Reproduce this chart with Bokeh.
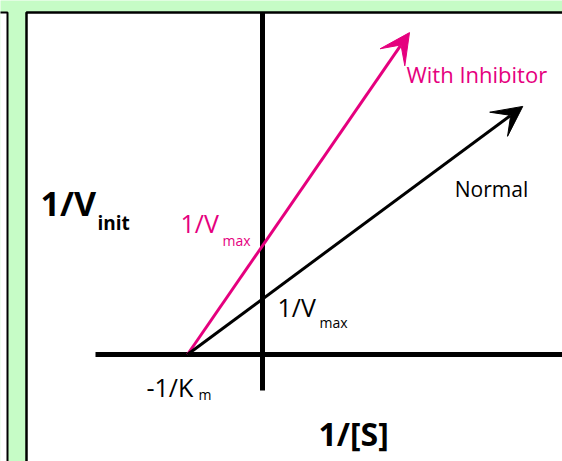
from bokeh.plotting import figure
from bokeh.models import Range1d, Arrow, VeeHead, Label
from bokeh.embed import file_html
from bokeh.resources import INLINE

# ---- data (Lineweaver-Burk schematic, in arbitrary units) ----
neg_inv_km = -1.0                 # x-intercept, -1/Km (shared)
inv_vmax = {"Normal": 0.74, "With Inhibitor": 1.45}   # y-intercepts 1/Vmax
x_end = {"Normal": 3.47, "With Inhibitor": 1.96}      # where each arrow ends
series = ["With Inhibitor", "Normal"]
colors = {"With Inhibitor": "#e5007e", "Normal": "#000000"}
x_label = "1/[S]"
y_label = "1/V"
y_sub = "init"

GREEN = "#c6fcc6"
W, H = 562, 461
SCALE = 75.0          # px per unit
ORIGIN_X, ORIGIN_Y = 262, 354   # origin in figure px (from left / top)

x0 = -ORIGIN_X / SCALE
x1 = (W - ORIGIN_X) / SCALE
y1 = ORIGIN_Y / SCALE
y0 = -(H - ORIGIN_Y) / SCALE

p = figure(width=W, height=H, output_backend="svg", toolbar_location=None,
           x_range=Range1d(x0, x1), y_range=Range1d(y0, y1),
           min_border=0, outline_line_color=None)
p.axis.visible = False
p.grid.visible = False
p.background_fill_color = GREEN
p.border_fill_color = GREEN

def fx(px):  # figure px from left -> data x
    return x0 + px / SCALE

def fy(py):  # figure px from top -> data y
    return y1 - py / SCALE

# panels
panel_top = fy(12)
p.quad(left=[fx(-10)], right=[fx(7)], top=[panel_top], bottom=[y0 - 5],
       fill_color="white", line_color="black", line_width=2)
p.quad(left=[fx(26)], right=[x1 + 5], top=[panel_top], bottom=[y0 - 5],
       fill_color="white", line_color="black", line_width=2.5)

# axes of the diagram
p.segment(x0=[fx(95)], y0=[0], x1=[x1 + 1], y1=[0], line_color="black", line_width=5)
p.segment(x0=[0], y0=[panel_top], x1=[0], y1=[fy(390)], line_color="black", line_width=5)

# lines with arrowheads
for s in series:
    xe = x_end[s]
    ye = inv_vmax[s] * (xe - neg_inv_km) / (0 - neg_inv_km)
    p.add_layout(Arrow(end=VeeHead(size=30, fill_color=colors[s], line_color=colors[s], line_width=1),
                       x_start=neg_inv_km, y_start=0, x_end=xe, y_end=ye,
                       line_color=colors[s], line_width=3))

FONT = "Open Sans"

def lab(text, x, y, dx, dy, size, color="black", bold=False, units="data"):
    p.add_layout(Label(x=x, y=y, x_offset=dx, y_offset=dy, text=text,
                       x_units=units, y_units=units,
                       text_font=FONT, text_font_size=size, text_color=color,
                       text_font_style="bold" if bold else "normal",
                       text_baseline="alphabetic", text_align="left"))

# tip labels
pink = colors["With Inhibitor"]
xe = x_end["With Inhibitor"]
ye = inv_vmax["With Inhibitor"] * (xe - neg_inv_km)
lab("With Inhibitor", xe, ye, -3, -41, "22px", pink)
xe = x_end["Normal"]
ye = inv_vmax["Normal"] * (xe - neg_inv_km)
lab("Normal", xe, ye, -68, -83, "21px")

# intercept labels
lab("1/V", 0, inv_vmax["With Inhibitor"], -82, 23, "25px", pink)
lab("max", 0, inv_vmax["With Inhibitor"], -40, 5, "14px", pink)
lab("1/V", 0, inv_vmax["Normal"], 15, -8, "25px")
lab("max", 0, inv_vmax["Normal"], 57, -23, "14px")
lab("-1/K", neg_inv_km, 0, -41, -32, "25px")
lab("m", neg_inv_km, 0, 11, -40, "14px")

# axis titles
lab(y_label, 40, H - 202, 0, 0, "34px", bold=True, units="screen")
lab(y_sub, 97, H - 222, 0, 0, "19px", bold=True, units="screen")
lab(x_label, 318, H - 433, 0, 0, "32px", bold=True, units="screen")

open("out.html", "w").write(file_html(p, INLINE))
